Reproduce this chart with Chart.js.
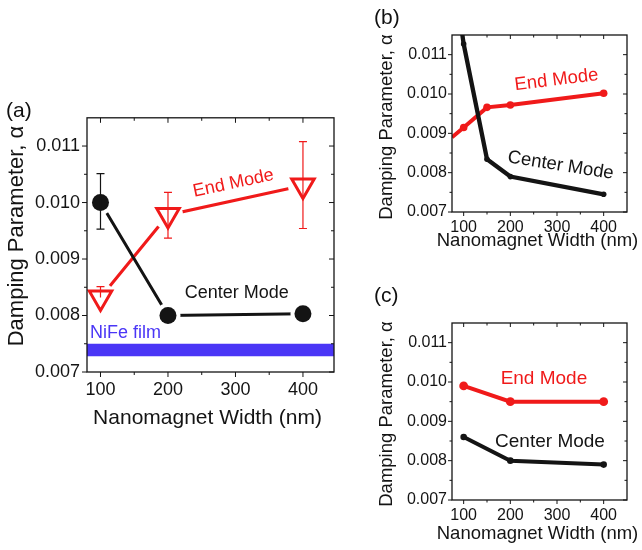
<!DOCTYPE html>
<html>
<head>
<meta charset="utf-8">
<script src="https://cdn.jsdelivr.net/npm/chart.js@4/dist/chart.umd.min.js"></script>
<style>
  body { margin: 0; background: #fff; }
  #wrap { position: relative; width: 642px; height: 550px; font-family: "Liberation Sans", Arial, sans-serif; }
  .panel { position: absolute; }
  .tag { position: absolute; font-size: 21px; line-height: 21px; color: #111; }
</style>
</head>
<body>
<div id="wrap">
  <div class="panel" style="left:0px;top:100px;"><canvas id="chartA" width="350" height="330"></canvas></div>
  <div class="panel" style="left:360px;top:0px;"><canvas id="chartB" width="282" height="260"></canvas></div>
  <div class="panel" style="left:360px;top:280px;"><canvas id="chartC" width="282" height="270"></canvas></div>
  <div class="tag" style="left:6px;top:99px;">(a)</div>
  <div class="tag" style="left:374px;top:6px;">(b)</div>
  <div class="tag" style="left:374px;top:284px;">(c)</div>
</div>
<script>
// tick labels
const xTicks = [100, 200, 300, 400];
const yTicks = [0.007, 0.008, 0.009, 0.010, 0.011];

// (a) measured points
const widthsA = [100, 200, 400];
const centerA = [0.0100, 0.0080, 0.00803];
const centerLowA = [0.00953, 0.0080, 0.00803];
const centerHighA = [0.01051, 0.0080, 0.00803];
const endA = [0.00832, 0.00978, 0.0103];
const endLowA = [0.00832, 0.00937, 0.00954];
const endHighA = [0.00851, 0.01018, 0.01108];
const filmEdges = [80, 446];
const filmLow = 0.00728;
const filmHigh = 0.0075;

// (b) simulation
const widthsBEnd = [75, 100, 150, 200, 400];
const endB = [0.0089, 0.00915, 0.00966, 0.00972, 0.01002];
const widthsBCenter = [90, 100, 150, 200, 400];
const centerB = [0.0121, 0.01127, 0.00834, 0.0079, 0.00745];

// (c) simulation
const widthsC = [100, 200, 400];
const endC = [0.0099, 0.0095, 0.0095];
const centerC = [0.0086, 0.0080, 0.0079];

const RED = '#f01a1a';
const BLACK = '#141414';
const BLUE = '#4a36f6';
const FONT = '"Liberation Sans", Arial, sans-serif';
const X_TITLE = 'Nanomagnet Width (nm)';
const Y_TITLE = 'Damping Parameter, α';

const pts = (xs, ys) => xs.map((x, i) => ({x: x, y: ys[i]}));

// box, ticks, error bars and labels drawn on top of the datasets
const framePlugin = {
  id: 'frame',
  afterDatasetsDraw(chart, args, opts) {
    const {ctx, chartArea: a, scales: {x, y}} = chart;
    ctx.save();

    // error bars
    (opts.bars || []).forEach(b => {
      ctx.strokeStyle = b.color;
      ctx.lineWidth = 1.2;
      b.x.forEach((xv, i) => {
        const px = x.getPixelForValue(xv);
        const lo = y.getPixelForValue(b.lo[i]);
        const hi = y.getPixelForValue(b.hi[i]);
        const mid = y.getPixelForValue(b.mid[i]);
        ctx.beginPath();
        if (Math.abs(hi - mid) > 0.5) {
          ctx.moveTo(px, mid); ctx.lineTo(px, hi);
          ctx.moveTo(px - 4, hi); ctx.lineTo(px + 4, hi);
        }
        if (Math.abs(lo - mid) > 0.5) {
          ctx.moveTo(px, mid); ctx.lineTo(px, lo);
          ctx.moveTo(px - 4, lo); ctx.lineTo(px + 4, lo);
        }
        ctx.stroke();
      });
    });

    // frame
    ctx.strokeStyle = BLACK;
    ctx.lineWidth = 1.3;
    ctx.strokeRect(a.left, a.top, a.right - a.left, a.bottom - a.top);

    // ticks: outward on left/bottom, inward on top/right
    const major = opts.major, minor = opts.minor;
    ctx.lineWidth = 1;
    ctx.beginPath();
    const xs = [[50, minor]];
    xTicks.forEach(v => { xs.push([v, major]); xs.push([v + 50, minor]); });
    xs.forEach(([v, len]) => {
      if (v <= x.min || v >= x.max) return;
      const px = x.getPixelForValue(v);
      ctx.moveTo(px, a.bottom); ctx.lineTo(px, a.bottom + len);
      ctx.moveTo(px, a.top); ctx.lineTo(px, a.top + len);
    });
    const ys = [];
    yTicks.forEach(v => { ys.push([v, major]); ys.push([v + 0.0005, minor]); });
    ys.forEach(([v, len]) => {
      if (v < y.min - 1e-9 || v > y.max - 1e-9) return;
      const py = y.getPixelForValue(v);
      ctx.moveTo(a.left - len, py); ctx.lineTo(a.left, py);
      ctx.moveTo(a.right - len, py); ctx.lineTo(a.right, py);
    });
    ctx.stroke();

    // axis titles (drawn here so they are not squeezed to the axis length)
    ctx.fillStyle = BLACK;
    ctx.textBaseline = 'middle';
    ctx.textAlign = 'center';
    ctx.font = opts.titleSize + 'px ' + FONT;
    ctx.fillText(X_TITLE, (a.left + a.right) / 2 + (opts.xTitleDx || 0), opts.xTitleY);
    ctx.save();
    ctx.translate(opts.yTitleX, opts.yTitleY);
    ctx.rotate(-Math.PI / 2);
    ctx.font = opts.yTitleSize + 'px ' + FONT;
    ctx.fillText(Y_TITLE, 0, 0);
    ctx.restore();

    // annotations
    (opts.labels || []).forEach(l => {
      ctx.save();
      ctx.translate(x.getPixelForValue(l.x), y.getPixelForValue(l.y));
      ctx.rotate((l.rot || 0) * Math.PI / 180);
      ctx.font = l.size + 'px ' + FONT;
      ctx.fillStyle = l.color;
      ctx.textAlign = l.align || 'center';
      ctx.fillText(l.text, 0, 0);
      ctx.restore();
    });
    ctx.restore();
  }
};

function makeScales(s) {
  return {
    x: {
      type: 'linear', min: s.xMin, max: s.xMax,
      afterBuildTicks: sc => { sc.ticks = xTicks.map(v => ({value: v})); },
      afterFit: sc => { sc.height = s.xH; },
      grid: {display: false, drawTicks: false},
      border: {display: false},
      ticks: {padding: s.xPad, color: BLACK, font: {family: FONT, size: s.tick}, maxRotation: 0,
              callback: v => String(v)}
    },
    y: {
      type: 'linear', min: 0.007, max: 0.0115,
      afterBuildTicks: sc => { sc.ticks = yTicks.map(v => ({value: v})); },
      afterFit: sc => { sc.width = s.yW; },
      grid: {display: false, drawTicks: false},
      border: {display: false},
      ticks: {padding: s.yPad, color: BLACK, font: {family: FONT, size: s.tick},
              callback: v => v.toFixed(3)}
    }
  };
}

const common = {
  responsive: false,
  animation: false,
  events: [],
  plugins: {legend: {display: false}, tooltip: {enabled: false}}
};

// (a)
new Chart(document.getElementById('chartA'), {
  type: 'line',
  data: {
    datasets: [
      {data: pts(filmEdges, filmEdges.map(() => filmHigh)), borderWidth: 0, pointRadius: 0, order: 10},
      {data: pts(filmEdges, filmEdges.map(() => filmLow)), borderWidth: 0, pointRadius: 0,
       fill: '-1', backgroundColor: BLUE, order: 10},
      {data: pts(widthsA, centerA), borderColor: BLACK, borderWidth: 3, pointRadius: 0, order: 8},
      {data: pts(widthsA, endA), borderColor: RED, borderWidth: 3, pointRadius: 0, order: 8},
      {data: pts(widthsA, centerA), showLine: false, pointRadius: 12.5, pointBackgroundColor: '#fff',
       pointBorderWidth: 0, order: 6},
      {data: pts(widthsA, endA), showLine: false, pointRadius: 15, pointBackgroundColor: '#fff',
       pointBorderWidth: 0, order: 6},
      {data: pts(widthsA, centerA), showLine: false, pointRadius: 8.5, pointBackgroundColor: BLACK,
       pointBorderWidth: 0, order: 4},
      {data: pts(widthsA, endA), showLine: false, pointStyle: 'triangle', rotation: 180,
       pointRadius: 13, pointBackgroundColor: '#fff', pointBorderColor: RED, pointBorderWidth: 3, order: 4}
    ]
  },
  options: Object.assign({}, common, {
    layout: {padding: {left: 0, top: 14, right: 10, bottom: 0}},
    scales: makeScales({xMin: 80, xMax: 446, xH: 58, xPad: 7, yW: 87, yPad: 7, tick: 18}),
    plugins: Object.assign({}, common.plugins, {
      frame: {
        major: 5, minor: 3,
        titleSize: 21, xTitleY: 318, xTitleDx: -3,
        yTitleSize: 22, yTitleX: 17, yTitleY: 136,
        bars: [
          {x: widthsA, mid: centerA, lo: centerLowA, hi: centerHighA, color: BLACK},
          {x: widthsA, mid: endA, lo: endLowA, hi: endHighA, color: RED}
        ],
        labels: [
          {text: 'End Mode', x: 297, y: 0.01034, rot: -12, size: 18, color: RED},
          {text: 'Center Mode', x: 302, y: 0.00839, size: 18, color: BLACK},
          {text: 'NiFe film', x: 84.3, y: 0.00769, size: 18, color: BLUE, align: 'left'}
        ]
      }
    })
  }),
  plugins: [framePlugin]
});

// (b)
new Chart(document.getElementById('chartB'), {
  type: 'line',
  data: {
    datasets: [
      {data: pts(widthsBCenter, centerB), borderColor: BLACK, borderWidth: 4.3, pointRadius: [0, 2.8, 2.8, 2.8, 2.8],
       pointBackgroundColor: BLACK, pointBorderWidth: 0},
      {data: pts(widthsBEnd, endB), borderColor: RED, borderWidth: 4, pointRadius: [0, 3.8, 3.8, 3.8, 3.8],
       pointBackgroundColor: RED, pointBorderWidth: 0}
    ]
  },
  options: Object.assign({}, common, {
    layout: {padding: {left: 0, top: 35, right: 15, bottom: 0}},
    scales: makeScales({xMin: 75, xMax: 450, xH: 48, xPad: 6, yW: 92, yPad: 5, tick: 16}),
    plugins: Object.assign({}, common.plugins, {
      frame: {
        major: 4, minor: 2.5,
        titleSize: 18.5, xTitleY: 241, xTitleDx: -2,
        yTitleSize: 18.5, yTitleX: 27, yTitleY: 127,
        labels: [
          {text: 'End Mode', x: 299, y: 0.010356, rot: -7, size: 18.5, color: RED},
          {text: 'Center Mode', x: 308, y: 0.00818, rot: 9, size: 18.5, color: BLACK}
        ]
      }
    })
  }),
  plugins: [framePlugin]
});

// (c)
new Chart(document.getElementById('chartC'), {
  type: 'line',
  data: {
    datasets: [
      {data: pts(widthsC, centerC), borderColor: BLACK, borderWidth: 4, pointRadius: 3.3,
       pointBackgroundColor: BLACK, pointBorderWidth: 0},
      {data: pts(widthsC, endC), borderColor: RED, borderWidth: 4, pointRadius: 4.4,
       pointBackgroundColor: RED, pointBorderWidth: 0}
    ]
  },
  options: Object.assign({}, common, {
    layout: {padding: {left: 0, top: 43, right: 15, bottom: 0}},
    scales: makeScales({xMin: 75, xMax: 450, xH: 50, xPad: 6, yW: 92, yPad: 5, tick: 16}),
    plugins: Object.assign({}, common.plugins, {
      frame: {
        major: 4, minor: 2.5,
        titleSize: 18.5, xTitleY: 254, xTitleDx: -2,
        yTitleSize: 18.5, yTitleX: 27, yTitleY: 134,
        labels: [
          {text: 'End Mode', x: 272, y: 0.010094, size: 19, color: RED},
          {text: 'Center Mode', x: 285, y: 0.008482, size: 19, color: BLACK}
        ]
      }
    })
  }),
  plugins: [framePlugin]
});
</script>
</body>
</html>
